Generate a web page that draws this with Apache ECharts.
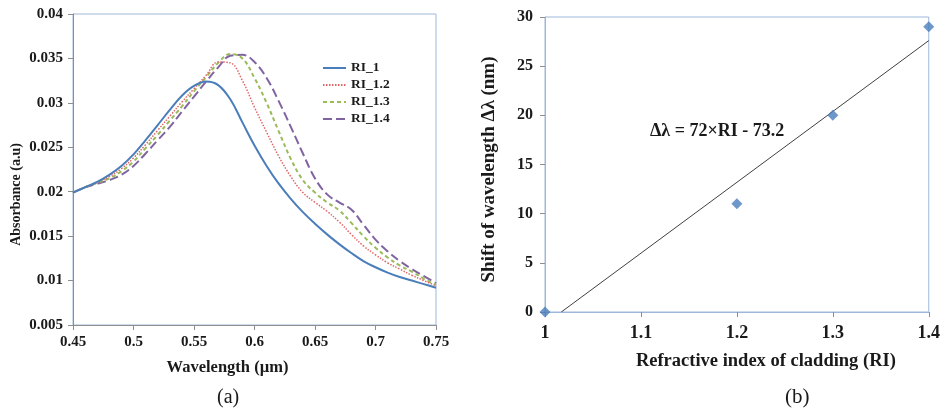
<!DOCTYPE html>
<html>
<head>
<meta charset="utf-8">
<script src="https://cdn.jsdelivr.net/npm/echarts@6/dist/echarts.min.js"></script>
<style>
  html, body { margin: 0; padding: 0; background: #fff; }
  #chart { width: 943px; height: 412px; }
</style>
</head>
<body>
<div id="chart"></div>
<script>
// panel (a): absorbance spectra
const wavelength = [0.45, 0.46, 0.47, 0.48, 0.49, 0.50, 0.51, 0.52, 0.53, 0.54, 0.55,
  0.56, 0.57, 0.58, 0.59, 0.60, 0.61, 0.62, 0.63, 0.64, 0.65, 0.66, 0.67, 0.68,
  0.69, 0.70, 0.71, 0.72, 0.73, 0.74, 0.75];
const ri1 = [0.0199, 0.0205, 0.0211, 0.0219, 0.0229, 0.0242, 0.0258, 0.0275, 0.0292, 0.0308, 0.0319,
  0.0324, 0.0320, 0.0304, 0.0278, 0.0252, 0.0229, 0.0209, 0.0192, 0.0177, 0.0164, 0.0152, 0.0141, 0.0131,
  0.0122, 0.0115, 0.0109, 0.0104, 0.0100, 0.0096, 0.0092];
const ri12 = [0.0199, 0.0205, 0.0210, 0.0217, 0.0226, 0.0238, 0.0253, 0.0269, 0.0285, 0.0301, 0.0316,
  0.0331, 0.0346, 0.0345, 0.0325, 0.0295, 0.0267, 0.0240, 0.0217, 0.0199, 0.0188, 0.0178, 0.0166, 0.0152,
  0.0139, 0.0129, 0.0120, 0.0113, 0.0106, 0.0100, 0.0094];
const ri13 = [0.0199, 0.0205, 0.0210, 0.0215, 0.0223, 0.0234, 0.0249, 0.0264, 0.0280, 0.0296, 0.0313,
  0.0329, 0.0345, 0.0355, 0.0350, 0.0328, 0.0300, 0.0268, 0.0237, 0.0213, 0.0199, 0.0188, 0.0179, 0.0165,
  0.0150, 0.0137, 0.0126, 0.0117, 0.0110, 0.0102, 0.0095];
const ri14 = [0.0199, 0.0205, 0.0209, 0.0213, 0.0219, 0.0229, 0.0243, 0.0258, 0.0273, 0.0290, 0.0307,
  0.0324, 0.0340, 0.0353, 0.0354, 0.0346, 0.0328, 0.0302, 0.0273, 0.0243, 0.0215, 0.0197, 0.0188, 0.0180,
  0.0163, 0.0146, 0.0133, 0.0122, 0.0113, 0.0105, 0.0097];
const seriesNames = ['RI_1', 'RI_1.2', 'RI_1.3', 'RI_1.4'];

// panel (b): wavelength shift vs refractive index
const riValues = [1.0, 1.2, 1.3, 1.4];
const shiftNm = [0, 11, 20, 29];
const trendX = [1.017, 1.4];
const trendY = [0, 27.6];
const equation = 'Δλ = 72×RI - 73.2';

const font = '"Liberation Serif", "Times New Roman", serif';
const axisGrey = '#8e8e8e';
const boxBlue = '#9db8da';
const ink = '#1a1a1a';

function pairs(xs, ys) {
  return xs.map((x, i) => [x, ys[i]]);
}

const chart = echarts.init(document.getElementById('chart'), null, { renderer: 'canvas' });

const lineStyles = [
  { color: '#4a7ebb', width: 2, type: 'solid' },
  { color: '#e06666', width: 1.5, type: [1.5, 1.5] },
  { color: '#9bbb59', width: 2, type: [4, 3] },
  { color: '#8064a2', width: 2, type: [9, 4] }
];
const spectra = [ri1, ri12, ri13, ri14];

const option = {
  animation: false,
  textStyle: { fontFamily: font },
  grid: [
    { left: 73, right: 507, top: 14, bottom: 87, show: true, borderColor: boxBlue, borderWidth: 1 },
    { left: 545, right: 14, top: 17, bottom: 100, show: true, borderColor: boxBlue, borderWidth: 1 }
  ],
  legend: {
    data: seriesNames,
    orient: 'vertical',
    left: 322,
    top: 61,
    padding: 0,
    itemWidth: 23,
    itemHeight: 10,
    itemGap: 3,
    itemStyle: { opacity: 0 },
    textStyle: { fontFamily: font, fontWeight: 'bold', fontSize: 13.5, color: ink }
  },
  xAxis: [
    {
      gridIndex: 0, type: 'value', min: 0.45, max: 0.75, interval: 0.05,
      name: 'Wavelength (µm)', nameLocation: 'middle', nameGap: 34,
      nameTextStyle: { fontFamily: font, fontWeight: 'bold', fontSize: 16.5, color: ink,
        padding: [0, 54, 0, 0] },
      axisLine: { lineStyle: { color: axisGrey } },
      axisTick: { show: true, length: 5, lineStyle: { color: axisGrey } },
      axisLabel: { margin: 10, fontFamily: font, fontWeight: 'bold', fontSize: 15, color: ink,
        formatter: v => String(+v.toFixed(2)) },
      splitLine: { show: false }
    },
    {
      gridIndex: 1, type: 'value', min: 1, max: 1.4, interval: 0.1,
      name: 'Refractive index of cladding (RI)', nameLocation: 'middle', nameGap: 40,
      nameTextStyle: { fontFamily: font, fontWeight: 'bold', fontSize: 18.5, color: ink,
        padding: [0, 0, 0, 58] },
      axisLine: { lineStyle: { color: boxBlue } },
      axisTick: { show: true, length: 5, lineStyle: { color: axisGrey } },
      axisLabel: { margin: 12, fontFamily: font, fontWeight: 'bold', fontSize: 18, color: ink,
        formatter: v => String(+v.toFixed(1)) },
      splitLine: { show: false }
    }
  ],
  yAxis: [
    {
      gridIndex: 0, type: 'value', min: 0.005, max: 0.04, interval: 0.005,
      name: 'Absorbance (a.u)', nameLocation: 'middle', nameGap: 50,
      nameTextStyle: { fontFamily: font, fontWeight: 'bold', fontSize: 14, color: ink,
        padding: [0, 50, 0, 0] },
      axisLine: { show: true, lineStyle: { color: axisGrey } },
      axisTick: { show: true, length: 5, lineStyle: { color: axisGrey } },
      axisLabel: { margin: 10, fontFamily: font, fontWeight: 'bold', fontSize: 15, color: ink,
        formatter: v => String(+v.toFixed(3)) },
      splitLine: { show: false }
    },
    {
      gridIndex: 1, type: 'value', min: 0, max: 30, interval: 5,
      name: 'Shift of wavelength Δλ (nm)', nameLocation: 'middle', nameGap: 46,
      nameTextStyle: { fontFamily: font, fontWeight: 'bold', fontSize: 19, color: ink,
        padding: [0, 10, 0, 0] },
      axisLine: { show: true, lineStyle: { color: boxBlue } },
      axisTick: { show: true, length: 5, lineStyle: { color: axisGrey } },
      axisLabel: { margin: 12, fontFamily: font, fontWeight: 'bold', fontSize: 16, color: ink },
      splitLine: { show: false }
    }
  ],
  series: [
    ...spectra.map((vals, i) => ({
      name: seriesNames[i],
      type: 'line',
      xAxisIndex: 0, yAxisIndex: 0,
      data: pairs(wavelength, vals),
      smooth: 0.4,
      symbol: 'none',
      lineStyle: lineStyles[i],
      itemStyle: { color: lineStyles[i].color },
      z: 10 - i
    })),
    {
      name: 'trend',
      type: 'line',
      xAxisIndex: 1, yAxisIndex: 1,
      data: pairs(trendX, trendY),
      symbol: 'none',
      lineStyle: { color: '#404040', width: 1 },
      silent: true
    },
    {
      name: 'shift',
      type: 'scatter',
      xAxisIndex: 1, yAxisIndex: 1,
      data: pairs(riValues, shiftNm),
      symbol: 'diamond',
      symbolSize: 11,
      itemStyle: { color: '#4a7ebb' },
      z: 5
    }
  ],
  graphic: [
    { type: 'text', left: 650, top: 122,
      style: { text: equation, font: 'bold 18px ' + font, fill: ink } },
    { type: 'text', left: 217, top: 388,
      style: { text: '(a)', font: '20px ' + font, fill: ink } },
    { type: 'text', left: 785, top: 387,
      style: { text: '(b)', font: '21px ' + font, fill: ink } }
  ]
};

chart.setOption(option);
window.addEventListener('resize', chart.resize);
</script>
</body>
</html>
